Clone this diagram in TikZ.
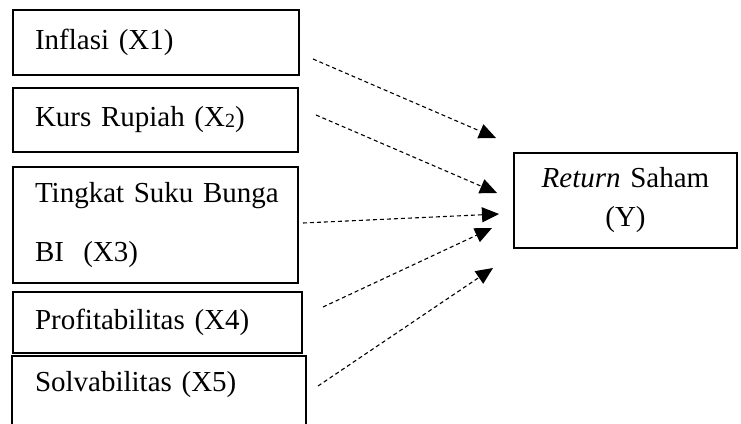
\documentclass[tikz,border=0pt]{standalone}
\usepackage{fontspec}
\setmainfont{Liberation Serif}
\usetikzlibrary{arrows.meta}
% small lowered index digit, as in X2
\newcommand\lowidx[1]{\raisebox{-1pt}{\fontsize{20}{20}\selectfont #1}}
\begin{document}
\begin{tikzpicture}[x=1pt,y=-1pt,
  varbox/.style={draw, line width=2pt, inner xsep=22pt, inner ysep=0pt,
    align=left, font=\fontsize{29}{39}\selectfont},
  link/.style={dash pattern=on 4pt off 3pt, line width=1.1pt,
    -{Triangle[length=17pt,width=15pt]}}]
\useasboundingbox (0,0) rectangle (741,423);

% independent variables
\node[varbox, minimum width=286pt, minimum height=65pt, text width=242pt]
  (x1) at (156,42.5) {Inflasi (X1)};
\node[varbox, minimum width=285pt, minimum height=64pt, text width=241pt]
  (x2) at (155.5,120) {Kurs Rupiah (X\lowidx{2})};
\node[varbox, minimum width=285pt, minimum height=116pt, text width=241pt]
  (x3) at (155.5,225) {Tingkat~Suku~Bunga\\[20pt]BI\ \ (X3)};
\node[varbox, minimum width=289pt, minimum height=61pt, text width=245pt]
  (x4) at (157.5,322.5) {Profitabilitas (X4)};
\node[varbox, draw=none, minimum width=292pt, minimum height=56pt, text width=248pt]
  (x5) at (159,385) {Solvabilitas (X5)};
\coordinate (floor) at (0,425);
\draw[line width=2pt] (x5.north west |- floor) -- (x5.north west)
  -- (x5.north east) -- (x5.north east |- floor);

% dependent variable
\node[varbox, align=center, inner xsep=0pt, minimum width=223pt,
  minimum height=95pt, text width=223pt]
  (y) at (625.5,200.5) {\textit{Return} Saham\\(Y)};

% arrow ends
\coordinate (s1) at (313,59);  \coordinate (t1) at (496,138);
\coordinate (s2) at (316,115); \coordinate (t2) at (497,193);
\coordinate (s3) at (303,223); \coordinate (t3) at (499,214);
\coordinate (s4) at (323,307); \coordinate (t4) at (492,228);
\coordinate (s5) at (318,386); \coordinate (t5) at (493,268);

\foreach \i in {1,...,5} \draw[link] (s\i) -- (t\i);
\end{tikzpicture}
\end{document}
